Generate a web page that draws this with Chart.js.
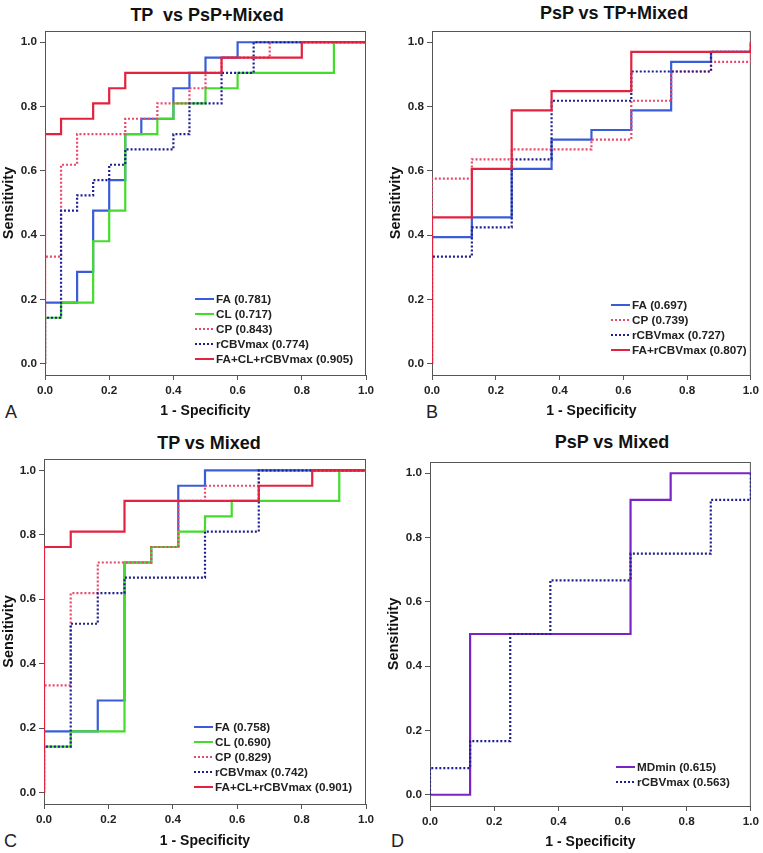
<!DOCTYPE html>
<html>
<head>
<meta charset="utf-8">
<script src="https://cdn.jsdelivr.net/npm/chart.js@4.4.1/dist/chart.umd.min.js"></script>
<style>
  body { margin: 0; background: #fff; width: 763px; height: 853px; position: relative; overflow: hidden;
         font-family: "Liberation Sans", Arial, sans-serif; }
  .panel { position: absolute; }
  .ttl { position: absolute; font-weight: bold; font-size: 18px; color: #111; white-space: pre;
         transform: translate(-50%, -50%); }
  .letter { position: absolute; font-size: 18px; color: #222; }
</style>
</head>
<body>
<div class="ttl" style="left:207px;top:15px">TP  vs PsP+Mixed</div>
<div class="ttl" style="left:614px;top:13px">PsP vs TP+Mixed</div>
<div class="ttl" style="left:209px;top:443px">TP vs Mixed</div>
<div class="ttl" style="left:612px;top:442px">PsP vs Mixed</div>
<div class="letter" style="left:5px;top:402px">A</div>
<div class="letter" style="left:426px;top:402px">B</div>
<div class="letter" style="left:4px;top:831px">C</div>
<div class="letter" style="left:391px;top:831px">D</div>

<div class="panel" style="left:0;top:0"><canvas id="chartA" width="381" height="420"></canvas></div>
<div class="panel" style="left:382px;top:0"><canvas id="chartB" width="381" height="420"></canvas></div>
<div class="panel" style="left:0;top:420px"><canvas id="chartC" width="382" height="433"></canvas></div>
<div class="panel" style="left:382px;top:420px"><canvas id="chartD" width="381" height="433"></canvas></div>

<script>
// tick labels
const xTicks = [0, 0.2, 0.4, 0.6, 0.8, 1.0];
const yTicks = [0, 0.2, 0.4, 0.6, 0.8, 1.0];

// ROC corner points (1 - specificity, sensitivity)
// A: TP vs PsP+Mixed
const aFA_x   = [0, 0, 0.1, 0.15, 0.2, 0.25, 0.3, 0.4, 0.45, 0.5, 0.6, 1];
const aFA_y   = [0, 0.190, 0.286, 0.476, 0.571, 0.714, 0.762, 0.857, 0.905, 0.952, 1, 1];
const aCL_x   = [0, 0, 0.05, 0.15, 0.2, 0.25, 0.35, 0.4, 0.5, 0.6, 0.9, 1];
const aCL_y   = [0, 0.143, 0.190, 0.381, 0.476, 0.714, 0.762, 0.810, 0.857, 0.905, 1, 1];
const aCP_x   = [0, 0, 0.05, 0.1, 0.25, 0.35, 0.45, 0.5, 0.55, 0.7, 1];
const aCP_y   = [0, 0.333, 0.619, 0.714, 0.762, 0.810, 0.857, 0.905, 0.952, 1, 1];
const aCBV_x  = [0, 0, 0.05, 0.1, 0.15, 0.2, 0.25, 0.4, 0.45, 0.55, 0.65, 1];
const aCBV_y  = [0, 0.143, 0.476, 0.524, 0.571, 0.619, 0.667, 0.714, 0.810, 0.905, 1, 1];
const aComb_x = [0, 0, 0.05, 0.15, 0.2, 0.25, 0.55, 0.8, 1];
const aComb_y = [0, 0.714, 0.762, 0.810, 0.857, 0.905, 0.952, 1, 1];

// B: PsP vs TP+Mixed
const bFA_x   = [0, 0, 0.125, 0.25, 0.375, 0.5, 0.625, 0.75, 0.875, 1];
const bFA_y   = [0, 0.394, 0.455, 0.606, 0.697, 0.727, 0.788, 0.939, 0.970, 1];
const bCP_x   = [0, 0, 0.125, 0.25, 0.5, 0.625, 0.75, 0.875, 1];
const bCP_y   = [0, 0.576, 0.636, 0.667, 0.697, 0.818, 0.909, 0.939, 1];
const bCBV_x  = [0, 0, 0.125, 0.25, 0.375, 0.625, 0.875, 1];
const bCBV_y  = [0, 0.333, 0.424, 0.636, 0.818, 0.909, 0.970, 1];
const bComb_x = [0, 0, 0.125, 0.25, 0.375, 0.625, 1];
const bComb_y = [0, 0.455, 0.606, 0.788, 0.848, 0.970, 1];

// C: TP vs Mixed
const cFA_x   = [0, 0, 0.167, 0.25, 0.333, 0.417, 0.5, 1];
const cFA_y   = [0, 0.190, 0.286, 0.714, 0.762, 0.952, 1, 1];
const cCL_x   = [0, 0, 0.083, 0.25, 0.333, 0.417, 0.5, 0.583, 0.917, 1];
const cCL_y   = [0, 0.143, 0.190, 0.714, 0.762, 0.810, 0.857, 0.905, 1, 1];
const cCP_x   = [0, 0, 0.083, 0.167, 0.333, 0.417, 0.5, 0.667, 1];
const cCP_y   = [0, 0.333, 0.619, 0.714, 0.762, 0.905, 0.952, 1, 1];
const cCBV_x  = [0, 0, 0.083, 0.167, 0.25, 0.5, 0.667, 1];
const cCBV_y  = [0, 0.143, 0.524, 0.619, 0.667, 0.810, 1, 1];
const cComb_x = [0, 0, 0.083, 0.25, 0.667, 0.833, 1];
const cComb_y = [0, 0.762, 0.810, 0.905, 0.952, 1, 1];

// D: PsP vs Mixed
const dMD_x   = [0, 0.125, 0.625, 0.75, 1];
const dMD_y   = [0, 0.5, 0.917, 1, 1];
const dCBV_x  = [0, 0, 0.125, 0.25, 0.375, 0.625, 0.875, 1];
const dCBV_y  = [0, 0.083, 0.167, 0.5, 0.667, 0.75, 0.917, 1];

const colFA = '#3a5cd8';
const colCL = '#44dc2c';
const colCP = '#e8486a';
const colCBV = '#1f2090';
const colComb = '#e2223f';
const colMD = '#7a24c8';

const FONT = '"Liberation Sans", Arial, sans-serif';

function pts(xs, ys) {
    return xs.map((x, i) => ({ x: x, y: ys[i] }));
}

// legend drawn inside the plot, lower right
const innerLegend = {
    id: 'innerLegend',
    afterDatasetsDraw(chart, args, opts) {
        const ctx = chart.ctx;
        const area = chart.chartArea;
        const sets = chart.data.datasets;
        const x0 = area.left + opts.left;
        let y = area.bottom - opts.bottom - (sets.length - 1) * 15;
        ctx.save();
        ctx.font = 'bold 11.7px ' + FONT;
        ctx.textBaseline = 'middle';
        sets.forEach(ds => {
            ctx.strokeStyle = ds.borderColor;
            ctx.lineWidth = 2;
            ctx.setLineDash(ds.borderDash || []);
            ctx.beginPath();
            ctx.moveTo(x0, y);
            ctx.lineTo(x0 + 19, y);
            ctx.stroke();
            ctx.setLineDash([]);
            ctx.fillStyle = '#222';
            ctx.fillText(ds.label, x0 + 21, y + 0.5);
            y += 15;
        });
        ctx.restore();
    }
};

// frame round the plot area
const plotFrame = {
    id: 'plotFrame',
    beforeDatasetsDraw(chart) {
        const a = chart.chartArea;
        const ctx = chart.ctx;
        ctx.save();
        ctx.strokeStyle = '#555';
        ctx.lineWidth = 1;
        ctx.strokeRect(a.left + 0.5, a.top + 0.5, a.width - 1, a.height);
        ctx.restore();
    }
};

function makeChart(id, series, box) {
    const datasets = series.map((s, i) => ({
        label: s.label,
        data: pts(s.xs, s.ys),
        borderColor: s.color,
        borderWidth: 2.2,
        borderDash: s.dotted ? [2, 2] : [],
        showLine: true,
        stepped: 'before',
        pointRadius: 0,
        fill: false,
        order: series.length - i
    }));

    return new Chart(document.getElementById(id).getContext('2d'), {
        type: 'scatter',
        data: { datasets: datasets },
        options: {
            responsive: false,
            animation: false,
            events: [],
            layout: { padding: box.padding },
            plugins: {
                legend: { display: false },
                tooltip: { enabled: false },
                innerLegend: box.legend
            },
            scales: {
                x: {
                    type: 'linear', min: 0, max: 1,
                    afterBuildTicks: s => { s.ticks = xTicks.map(v => ({ value: v })); },
                    afterFit: s => { s.height = box.xHeight; },
                    grid: { display: true, drawOnChartArea: false, drawTicks: true, tickLength: 5, color: '#555' },
                    border: { display: true, color: '#555' },
                    ticks: { color: '#222', padding: 4, font: { family: FONT, size: 11.7, weight: 'bold' },
                             callback: v => v.toFixed(1), maxRotation: 0 },
                    title: { display: true, text: '1 - Specificity', color: '#111',
                             font: { family: FONT, size: 14, weight: 'bold' }, padding: { top: 0, bottom: box.xTitlePad } }
                },
                y: {
                    type: 'linear', min: -0.035, max: 1.035,
                    afterBuildTicks: s => { s.ticks = yTicks.map(v => ({ value: v })); },
                    afterFit: s => { s.width = box.yWidth; },
                    grid: { display: true, drawOnChartArea: false, drawTicks: true, tickLength: 5, color: '#555' },
                    border: { display: true, color: '#555' },
                    ticks: { color: '#222', padding: 3, font: { family: FONT, size: 11.7, weight: 'bold' },
                             callback: v => v.toFixed(1) },
                    title: { display: true, text: 'Sensitivity', color: '#111',
                             font: { family: FONT, size: 14.5, weight: 'bold' }, padding: { top: box.yTitlePad, bottom: 0 } }
                }
            }
        },
        plugins: [plotFrame, innerLegend]
    });
}

makeChart('chartA', [
    { label: 'FA (0.781)', xs: aFA_x, ys: aFA_y, color: colFA },
    { label: 'CL (0.717)', xs: aCL_x, ys: aCL_y, color: colCL },
    { label: 'CP (0.843)', xs: aCP_x, ys: aCP_y, color: colCP, dotted: true },
    { label: 'rCBVmax (0.774)', xs: aCBV_x, ys: aCBV_y, color: colCBV, dotted: true },
    { label: 'FA+CL+rCBVmax (0.905)', xs: aComb_x, ys: aComb_y, color: colComb }
], { padding: { top: 31, left: 0, right: 15, bottom: 0 }, yWidth: 45, xHeight: 45, xTitlePad: 0, yTitlePad: 0,
     legend: { left: 150, bottom: 16 } });

makeChart('chartB', [
    { label: 'FA (0.697)', xs: bFA_x, ys: bFA_y, color: colFA },
    { label: 'CP (0.739)', xs: bCP_x, ys: bCP_y, color: colCP, dotted: true },
    { label: 'rCBVmax (0.727)', xs: bCBV_x, ys: bCBV_y, color: colCBV, dotted: true },
    { label: 'FA+rCBVmax (0.807)', xs: bComb_x, ys: bComb_y, color: colComb }
], { padding: { top: 31, left: 0, right: 9, bottom: 0 }, yWidth: 50, xHeight: 45, xTitlePad: 0, yTitlePad: 5,
     legend: { left: 179, bottom: 25 } });

makeChart('chartC', [
    { label: 'FA (0.758)', xs: cFA_x, ys: cFA_y, color: colFA },
    { label: 'CL (0.690)', xs: cCL_x, ys: cCL_y, color: colCL },
    { label: 'CP (0.829)', xs: cCP_x, ys: cCP_y, color: colCP, dotted: true },
    { label: 'rCBVmax (0.742)', xs: cCBV_x, ys: cCBV_y, color: colCBV, dotted: true },
    { label: 'FA+CL+rCBVmax (0.901)', xs: cComb_x, ys: cComb_y, color: colComb }
], { padding: { top: 39, left: 0, right: 16, bottom: 0 }, yWidth: 44, xHeight: 49, xTitlePad: 3, yTitlePad: 0,
     legend: { left: 150, bottom: 17 } });

makeChart('chartD', [
    { label: 'MDmin (0.615)', xs: dMD_x, ys: dMD_y, color: colMD },
    { label: 'rCBVmax (0.563)', xs: dCBV_x, ys: dCBV_y, color: colCBV, dotted: true }
], { padding: { top: 42, left: 0, right: 11, bottom: 0 }, yWidth: 48, xHeight: 47, xTitlePad: 2, yTitlePad: 3,
     legend: { left: 186, bottom: 24 } });
</script>
</body>
</html>
